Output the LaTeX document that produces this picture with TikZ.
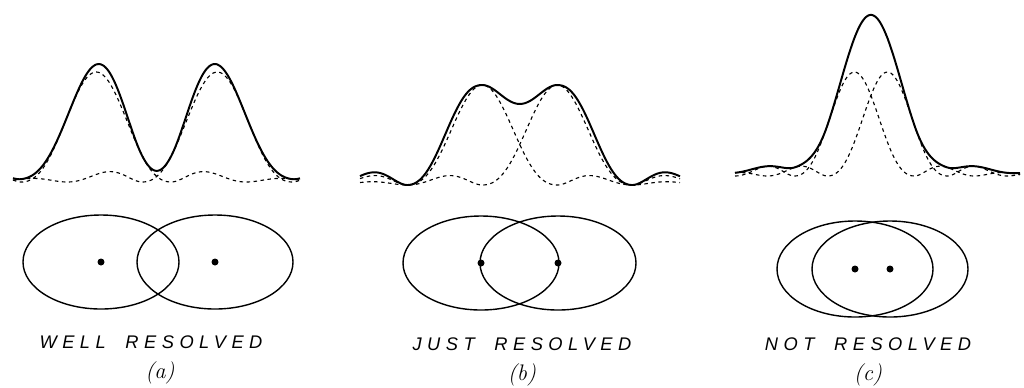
\documentclass[tikz,border=0pt]{standalone}
\usepackage{fontspec}
\usepackage{tikz}
\newfontfamily\capfont{Liberation Sans}[LetterSpace=30]

\begin{document}
\begin{tikzpicture}[x=0.25mm, y=-0.25mm,
  declare function={sinc(\u)=sin(180*\u)/(pi*\u);
    spot(\u)=sinc(\u+0.01)*sinc(\u+0.01)*(1+(abs(\u)>1));},
  single/.style={line width=0.8pt, dash pattern=on 2.5pt off 2.5pt},
  total/.style={line width=1.4pt, line join=round},
  ring/.style={line width=1pt},
  caption/.style={font=\fontsize{13}{15}\capfont\itshape, inner sep=0pt},
  tag/.style={font=\fontsize{16}{18}\selectfont\itshape, inner sep=0pt}]
  \useasboundingbox (0,0) rectangle (1024,387);
  % (a) well resolved
  \draw[single] plot[domain=13:300, samples=200] (\x, {182-110*spot((\x-97)/75)});
  \draw[single] plot[domain=13:300, samples=200] (\x, {182-110*spot((\x-218)/75)});
  \draw[total] plot[domain=13:300, samples=240]
    (\x, {182-110*(spot((\x-97)/75)+spot((\x-218)/75))});
  \coordinate (pa1) at (101,262);
  \coordinate (pa2) at (215,262);
  \draw[ring] (pa1) ellipse [x radius=78, y radius=47];
  \draw[ring] (pa2) ellipse [x radius=78, y radius=47];
  \fill (pa1) circle [radius=3.5];
  \fill (pa2) circle [radius=3.5];
  \node[caption] (wellres) at (151,342) {WELL\hspace{0.5em} RESOLVED};
  \node[tag] (taga) at (160,373) {(a)};
  % (b) just resolved
  \draw[single] plot[domain=360:680, samples=200] (\x, {185-100*spot((\x-483)/75)});
  \draw[single] plot[domain=360:680, samples=200] (\x, {185-100*spot((\x-558)/75)});
  \draw[total] plot[domain=360:680, samples=240]
    (\x, {185-100*(spot((\x-483)/75)+spot((\x-558)/75))});
  \coordinate (pb1) at (481,263);
  \coordinate (pb2) at (558,263);
  \draw[ring] (pb1) ellipse [x radius=78, y radius=47];
  \draw[ring] (pb2) ellipse [x radius=78, y radius=47];
  \fill (pb1) circle [radius=3.5];
  \fill (pb2) circle [radius=3.5];
  \node[caption] (justres) at (522,344) {JUST\hspace{0.5em} RESOLVED};
  \node[tag] (tagb) at (522,375) {(b)};
  % (c) not resolved
  \draw[single] plot[domain=735:1020, samples=200] (\x, {176-104*spot((\x-855)/60)});
  \draw[single] plot[domain=735:1020, samples=200] (\x, {176-104*spot((\x-888)/60)});
  \draw[total] plot[domain=735:1020, samples=240]
    (\x, {176-104*(spot((\x-855)/60)+spot((\x-888)/60))});
  \coordinate (pc1) at (855,269);
  \coordinate (pc2) at (890,269);
  \draw[ring] (pc1) ellipse [x radius=78, y radius=48];
  \draw[ring] (pc2) ellipse [x radius=78, y radius=48];
  \fill (pc1) circle [radius=3.5];
  \fill (pc2) circle [radius=3.5];
  \node[caption] (notres) at (868,344) {NOT\hspace{0.5em} RESOLVED};
  \node[tag] (tagc) at (868,375) {(c)};
\end{tikzpicture}
\end{document}
